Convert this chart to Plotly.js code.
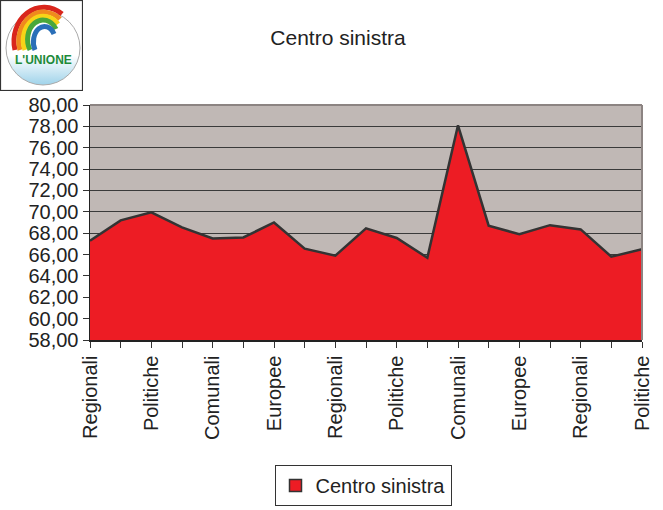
<!DOCTYPE html>
<html>
<head>
<meta charset="utf-8">
<script src="https://cdn.plot.ly/plotly-3.0.1.min.js"></script>
<style>html,body{margin:0;padding:0;background:#fff;}#chart{width:663px;height:510px;}</style>
</head>
<body>
<div id="chart"></div>
<script>
// Data
const seriesName = 'Centro sinistra';
const values = [67.3, 69.2, 69.95, 68.55, 67.5, 67.6, 69.0, 66.55, 65.9, 68.45, 67.55, 65.7, 78.1, 68.7, 67.9, 68.75, 68.35, 65.8, 66.5];
const tickLabels = ['Regionali', 'Politiche', 'Comunali', 'Europee', 'Regionali', 'Politiche', 'Comunali', 'Europee', 'Regionali', 'Politiche'];
const logoText = "L'UNIONE";

const xIdx = values.map((v, i) => i);
const labelPos = tickLabels.map((t, i) => i * 2);

const W = 663, H = 510, L = 90, R = 642, T = 105, B = 340;
const px = x => (x - L) / (R - L);
const py = y => (B - y) / (B - T);

const logoSvg = `<svg xmlns="http://www.w3.org/2000/svg" width="83" height="91" viewBox="0 0 83 91">
<defs><linearGradient id="g" x1="0" y1="0" x2="0" y2="1">
<stop offset="0" stop-color="#ffffff"/><stop offset="0.6" stop-color="#ffffff"/><stop offset="1" stop-color="#9fd3ea"/></linearGradient></defs>
<rect x="0.5" y="0.5" width="82" height="90" fill="#fff" stroke="#333" stroke-width="1.2"/>
<circle cx="43" cy="48" r="37" fill="url(#g)" stroke="#aaa" stroke-width="1"/>
<g fill="none" stroke-width="5" stroke-linecap="butt">
<path d="M15 50 A30 34 0 0 1 62 14" stroke="#d9261c"/>
<path d="M20 50 A25 29 0 0 1 60 19" stroke="#f08a1d"/>
<path d="M25 50 A20 24 0 0 1 58 24" stroke="#f7d417"/>
<path d="M30 50 A15 19 0 0 1 56 29" stroke="#4aa83a"/>
<path d="M35 50 A10 14 0 0 1 54 34" stroke="#2a6fb8"/>
</g>
</svg>`;
const logoUri = 'data:image/svg+xml;charset=utf-8,' + encodeURIComponent(logoSvg);

const areaTrace = {
  x: xIdx,
  y: values,
  type: 'scatter',
  mode: 'lines',
  name: seriesName,
  fill: 'tozeroy',
  fillcolor: '#ED1C24',
  line: {color: '#333333', width: 2.5},
  showlegend: false,
  hoverinfo: 'y'
};
// legend-only proxy so the legend shows a square swatch
const legendProxy = {
  x: [null], y: [null], type: 'bar', name: seriesName,
  marker: {color: '#ED1C24', line: {color: '#333', width: 1.5}},
  showlegend: true, hoverinfo: 'skip'
};

const layout = {
  width: W, height: H,
  margin: {l: L, r: W - R, t: T, b: H - B, pad: 0, autoexpand: false},
  paper_bgcolor: '#ffffff',
  plot_bgcolor: '#C0B8B5',
  font: {family: 'Liberation Sans, Arial, sans-serif', size: 20, color: '#222'},
  separators: ',.',
  title: {text: 'Centro sinistra', x: 338 / W, xanchor: 'center', y: 1 - 38 / H, yanchor: 'middle',
          font: {size: 21, color: '#222'}},
  showlegend: true,
  legend: {x: px(363), xanchor: 'center', y: py(506), yanchor: 'bottom', orientation: 'h',
           bordercolor: '#333', borderwidth: 1, bgcolor: '#fff', font: {size: 20, color: '#222'},
           itemwidth: 30, tracegroupgap: 0, valign: 'middle'},
  xaxis: {
    range: [0, 18], tickmode: 'array', tickvals: labelPos, ticktext: tickLabels,
    tickangle: -90, ticks: 'outside', ticklen: 6, tickcolor: '#333', tickwidth: 1,
    minor: {dtick: 1, tick0: 0, ticks: 'outside', ticklen: 6, tickcolor: '#333', showgrid: false},
    showgrid: false, showline: true, linecolor: '#222', linewidth: 1.5, zeroline: false,
    automargin: false, fixedrange: true
  },
  yaxis: {
    range: [58, 80], dtick: 2, tick0: 58, tickformat: '.2f',
    ticks: 'outside', ticklen: 6, tickcolor: '#333', tickwidth: 1,
    showgrid: true, gridcolor: '#3a3a3a', gridwidth: 1,
    showline: true, linecolor: '#222', linewidth: 1.5, zeroline: false,
    automargin: false, fixedrange: true
  },
  shapes: [
    {type: 'line', xref: 'paper', yref: 'paper', x0: 0, x1: 1, y0: 1, y1: 1, line: {color: '#8c8482', width: 2}},
    {type: 'line', xref: 'paper', yref: 'paper', x0: 1, x1: 1, y0: 0, y1: 1, line: {color: '#8c8482', width: 2}}
  ],
  images: [{
    source: logoUri, xref: 'paper', yref: 'paper',
    x: px(0), y: py(0), sizex: 83 / (R - L), sizey: 91 / (B - T),
    xanchor: 'left', yanchor: 'top', sizing: 'stretch', layer: 'above'
  }],
  annotations: [{
    text: '<b>' + logoText + '</b>', xref: 'paper', yref: 'paper',
    x: px(43), y: py(60), xanchor: 'center', yanchor: 'middle', showarrow: false,
    font: {family: 'Liberation Sans, Arial, sans-serif', size: 12, color: '#1d8a3a'}
  }]
};

Plotly.newPlot('chart', [areaTrace, legendProxy], layout, {displayModeBar: false, staticPlot: true});
</script>
</body>
</html>
